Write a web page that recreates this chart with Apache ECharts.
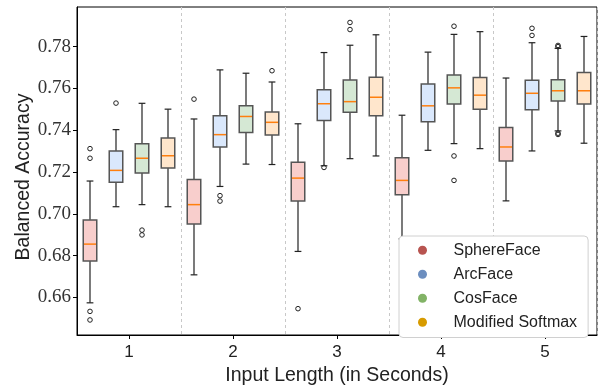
<!DOCTYPE html>
<html>
<head>
<meta charset="utf-8">
<script src="https://cdn.jsdelivr.net/npm/echarts@6/dist/echarts.min.js"></script>
<style>
html,body{margin:0;padding:0;background:#fff;}
#chart{width:600px;height:391px;}
</style>
</head>
<body>
<div id="chart"></div>
<script>
// ---- data ----
const categories = ['1', '2', '3', '4', '5'];
const methods = ['SphereFace', 'ArcFace', 'CosFace', 'Modified Softmax'];
const yTicks = [0.66, 0.68, 0.70, 0.72, 0.74, 0.76, 0.78];

// [lower whisker, Q1, median, Q3, upper whisker] per input length
const sphereFace = [
  [0.6574, 0.6774, 0.6855, 0.6971, 0.7157],
  [0.6708, 0.6951, 0.7044, 0.7164, 0.7454],
  [0.6820, 0.7062, 0.7171, 0.7247, 0.7431],
  [0.6880, 0.7091, 0.7160, 0.7269, 0.7472],
  [0.7062, 0.7253, 0.7320, 0.7413, 0.7650]
];
const arcFace = [
  [0.7034, 0.7151, 0.7208, 0.7301, 0.7403],
  [0.7131, 0.7320, 0.7379, 0.7470, 0.7689],
  [0.7230, 0.7447, 0.7527, 0.7594, 0.7772],
  [0.7304, 0.7441, 0.7517, 0.7622, 0.7774],
  [0.7301, 0.7498, 0.7577, 0.7639, 0.7819]
];
const cosFace = [
  [0.7044, 0.7196, 0.7266, 0.7336, 0.7529],
  [0.7238, 0.7389, 0.7466, 0.7517, 0.7673],
  [0.7264, 0.7486, 0.7537, 0.7640, 0.7807],
  [0.7336, 0.7526, 0.7603, 0.7665, 0.7859],
  [0.7397, 0.7540, 0.7589, 0.7642, 0.7792]
];
const modSoftmax = [
  [0.7034, 0.7219, 0.7278, 0.7363, 0.7501],
  [0.7236, 0.7377, 0.7438, 0.7487, 0.7631],
  [0.7277, 0.7470, 0.7558, 0.7654, 0.7857],
  [0.7312, 0.7501, 0.7568, 0.7653, 0.7872],
  [0.7338, 0.7526, 0.7589, 0.7677, 0.7849]
];

// outliers: [category index, value]
const sphereOutliers = [[0, 0.7312], [0, 0.7266], [0, 0.6533], [0, 0.6492], [1, 0.7549], [2, 0.6546]];
const arcOutliers = [[0, 0.7530], [1, 0.7087], [1, 0.7061], [2, 0.7222], [4, 0.7888], [4, 0.7854]];
const cosOutliers = [[0, 0.6922], [0, 0.6899], [2, 0.7916], [2, 0.7882], [3, 0.7898], [3, 0.7277], [3, 0.7160],
                     [4, 0.7806], [4, 0.7800], [4, 0.7386], [4, 0.7380]];
const softmaxOutliers = [[1, 0.7685]];

// ---- styling ----
const boxFills = ['#f8cecc', '#dae8fc', '#d5e8d4', '#ffe6cc'];
const legendColors = ['#b85450', '#6c8ebf', '#82b366', '#d79b00'];
const statsList = [sphereFace, arcFace, cosFace, modSoftmax];
const outlierList = [sphereOutliers, arcOutliers, cosOutliers, softmaxOutliers];

const SANS = '"Liberation Sans", Arial, Helvetica, sans-serif';
const SERIF = '"Liberation Serif", "Times New Roman", serif';

function boxRenderer(k) {
  return function (params, api) {
    const ci = api.value(0);
    const band = api.size([1, 0])[0];
    const off = (k - 1.5) * 0.25 * band;
    const w = band * 0.13;
    const cap = w * 0.5;
    const pLo = api.coord([ci, api.value(1)]);
    const pQ1 = api.coord([ci, api.value(2)]);
    const pMed = api.coord([ci, api.value(3)]);
    const pQ3 = api.coord([ci, api.value(4)]);
    const pHi = api.coord([ci, api.value(5)]);
    const x = pLo[0] + off;
    const lineStyle = { stroke: '#222', lineWidth: 1.2 };
    return {
      type: 'group',
      children: [
        { type: 'line', shape: { x1: x, y1: pLo[1], x2: x, y2: pQ1[1] }, style: lineStyle },
        { type: 'line', shape: { x1: x, y1: pQ3[1], x2: x, y2: pHi[1] }, style: lineStyle },
        { type: 'line', shape: { x1: x - cap / 2, y1: pLo[1], x2: x + cap / 2, y2: pLo[1] }, style: lineStyle },
        { type: 'line', shape: { x1: x - cap / 2, y1: pHi[1], x2: x + cap / 2, y2: pHi[1] }, style: lineStyle },
        { type: 'rect', shape: { x: x - w / 2, y: pQ3[1], width: w, height: pQ1[1] - pQ3[1] },
          style: { fill: boxFills[k], stroke: '#555', lineWidth: 1.5 } },
        { type: 'line', shape: { x1: x - w / 2 + 0.75, y1: pMed[1], x2: x + w / 2 - 0.75, y2: pMed[1] },
          style: { stroke: '#ff7f0e', lineWidth: 1.5 } }
      ]
    };
  };
}

function outlierRenderer(k) {
  return function (params, api) {
    const band = api.size([1, 0])[0];
    const off = (k - 1.5) * 0.25 * band;
    const p = api.coord([api.value(0), api.value(1)]);
    return {
      type: 'circle',
      shape: { cx: p[0] + off, cy: p[1], r: 2.3 },
      style: { fill: 'none', stroke: '#222', lineWidth: 1 }
    };
  };
}

const series = [];
methods.forEach(function (name, k) {
  series.push({
    name: name,
    type: 'custom',
    renderItem: boxRenderer(k),
    itemStyle: { color: legendColors[k] },
    encode: { x: 0, y: [1, 2, 3, 4, 5] },
    data: statsList[k].map(function (s, i) { return [i].concat(s); }),
    z: 3
  });
});
methods.forEach(function (name, k) {
  series.push({
    name: name,
    type: 'custom',
    renderItem: outlierRenderer(k),
    itemStyle: { color: legendColors[k] },
    encode: { x: 0, y: 1 },
    data: outlierList[k],
    z: 3
  });
});

const chart = echarts.init(document.getElementById('chart'), null, { renderer: 'canvas' });
chart.setOption({
  animation: false,
  backgroundColor: '#fff',
  grid: { left: 77, right: 3, top: 7, bottom: 46, show: true, borderColor: '#000', borderWidth: 1, backgroundColor: 'transparent' },
  legend: {
    data: methods,
    orient: 'vertical',
    left: 399,
    top: 236,
    padding: [6, 11, 7, 19],
    itemGap: 7.5,
    itemWidth: 20,
    itemHeight: 9,
    icon: 'circle',
    backgroundColor: '#fff',
    borderColor: '#d0d0d0',
    borderWidth: 1,
    borderRadius: 4,
    textStyle: { fontFamily: SANS, fontSize: 16, color: '#222', lineHeight: 16.5, padding: [0, 0, 0, 16] }
  },
  xAxis: {
    type: 'category',
    data: categories,
    boundaryGap: true,
    name: 'Input Length (in Seconds)',
    nameLocation: 'middle',
    nameGap: 31,
    nameMoveOverlap: false,
    nameTextStyle: { fontFamily: SANS, fontSize: 19.5, color: '#222' },
    axisLine: { show: true, lineStyle: { color: '#000', width: 1 } },
    axisTick: { show: true, alignWithLabel: true, length: 4, lineStyle: { color: '#000' } },
    axisLabel: { fontFamily: SANS, fontSize: 17, color: '#222', margin: 9 },
    splitLine: { show: true, lineStyle: { color: '#c8c8c8', type: [3, 3], width: 1 } }
  },
  yAxis: {
    type: 'value',
    min: 0.642,
    max: 0.799,
    name: 'Balanced Accuracy',
    nameLocation: 'middle',
    nameGap: 43,
    nameMoveOverlap: false,
    nameTextStyle: { fontFamily: SANS, fontSize: 19.5, color: '#222', padding: [0, 12, 0, 0] },
    axisLine: { show: true, lineStyle: { color: '#000', width: 1 } },
    axisTick: { show: true, length: 4, customValues: yTicks, lineStyle: { color: '#000' } },
    axisLabel: {
      fontFamily: SERIF, fontSize: 19, color: '#333', margin: 6,
      customValues: yTicks,
      formatter: function (v) { return v.toFixed(2); }
    },
    splitLine: { show: false }
  },
  series: series
});
</script>
</body>
</html>
